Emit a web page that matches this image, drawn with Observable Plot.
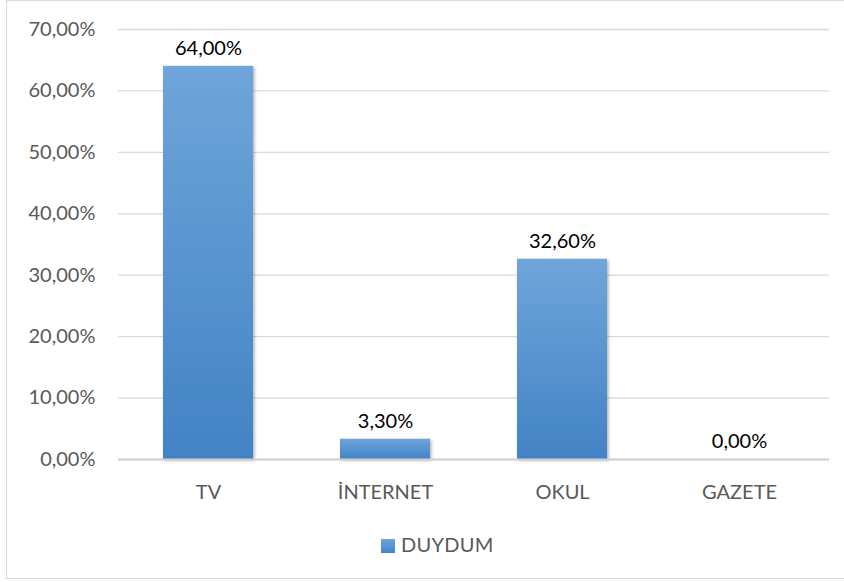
<!DOCTYPE html>
<html>
<head>
<meta charset="utf-8">
<script src="https://cdn.jsdelivr.net/npm/d3@7"></script>
<script src="https://cdn.jsdelivr.net/npm/@observablehq/plot@0.6"></script>
<style>
  html, body { margin: 0; padding: 0; background: #fff; overflow: hidden; }
  #wrap { position: relative; width: 844px; height: 582px; overflow: hidden; font-family: Lato, sans-serif; }
  #frame { position: absolute; left: 6px; top: 0px; width: 900px; height: 579px; border: 1px solid #d9d9d9; box-sizing: border-box; }
  #plot { position: absolute; left: 0; top: 0; }
  #legend { position: absolute; left: 381px; top: 532px; font-size: 20px; color: #595959; white-space: nowrap; letter-spacing: 0.3px; }
  #legend .sw { display: inline-block; width: 14px; height: 14px; background: linear-gradient(#6ea4d9, #4485c6); margin-right: 6px; vertical-align: -1px; }
</style>
</head>
<body>
<div id="wrap">
  <div id="frame"></div>
  <div id="plot"></div>
  <div id="legend"><span class="sw"></span><span id="legendText"></span></div>
</div>
<script>
const categories = ["TV", "İNTERNET", "OKUL", "GAZETE"];
const values = [64.0, 3.3, 32.6, 0.0];
const yTicks = [0, 10, 20, 30, 40, 50, 60, 70];
const seriesName = "DUYDUM";

document.getElementById("legendText").textContent = seriesName;

const data = categories.map((c, i) => ({category: c, value: values[i]}));
const fmt = v => v.toFixed(2).replace(".", ",") + "%";

const defs = () => {
  const svgNS = "http://www.w3.org/2000/svg";
  const d = document.createElementNS(svgNS, "defs");
  d.innerHTML = `
    <linearGradient id="barGrad" x1="0" y1="0" x2="0" y2="1">
      <stop offset="0" stop-color="#6fa5da"/>
      <stop offset="1" stop-color="#4283c5"/>
    </linearGradient>
    <filter id="shadow" x="-10%" y="-10%" width="130%" height="130%">
      <feDropShadow dx="1.5" dy="1.5" stdDeviation="1.5" flood-color="#000" flood-opacity="0.3"/>
    </filter>`;
  return d;
};

const chart = Plot.plot({
  width: 844,
  height: 510,
  marginTop: 29,
  marginBottom: 51,
  marginLeft: 118,
  marginRight: 15,
  style: {fontFamily: "Lato, sans-serif", fontSize: "20px", color: "#595959", background: "transparent"},
  x: {domain: categories, paddingInner: 0.494, paddingOuter: 0.247, label: null},
  y: {domain: [0, 70], ticks: yTicks, label: null},
  marks: [
    defs,
    Plot.gridY(yTicks, {stroke: "#d9d9d9", strokeOpacity: 1, strokeWidth: 1.3}),
    Plot.axisY(yTicks, {tickSize: 0, tickPadding: 23, tickFormat: fmt, fill: "#595959", fontSize: 20, label: null}),
    Plot.axisX({tickSize: 0, tickPadding: 25, fill: "#595959", fontSize: 20, label: null}),
    Plot.barY(data, {x: "category", y: "value", fill: "url(#barGrad)", filter: d => d.value > 0}),
    Plot.ruleY([0], {stroke: "#d0d0d0", strokeWidth: 2}),
    Plot.text(data, {x: "category", y: "value", text: d => fmt(d.value), dy: -18, fill: "#000", fontSize: 20})
  ]
});
chart.querySelectorAll("rect").forEach(r => r.setAttribute("filter", "url(#shadow)"));
document.getElementById("plot").appendChild(chart);
</script>
</body>
</html>
